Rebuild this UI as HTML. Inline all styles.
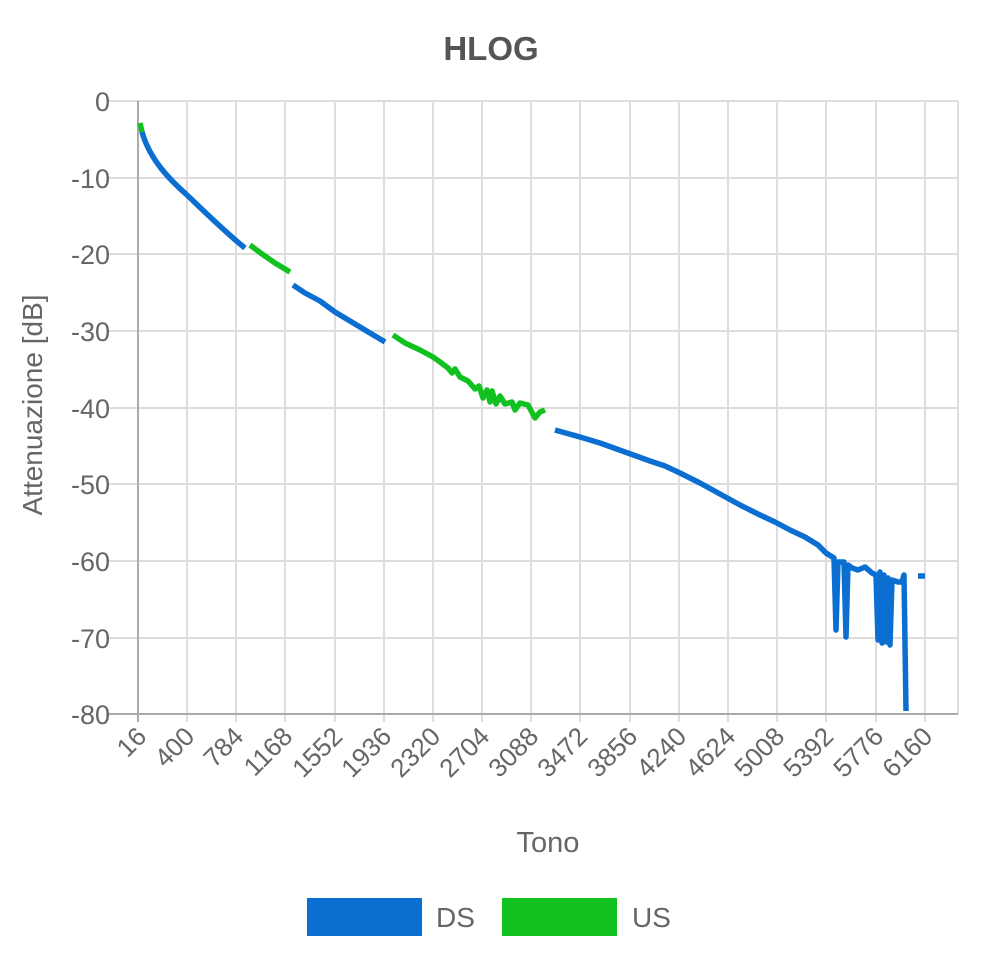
<!DOCTYPE html><html><head><style>body{margin:0;background:#fff}svg{font-family:"Liberation Sans",sans-serif}</style></head><body>
<svg width="981" height="962" viewBox="0 0 981 962">
<text x="491" y="60" text-anchor="middle" font-size="33" font-weight="bold" fill="#555">HLOG</text>
<g stroke="#ddd" stroke-width="2">
<line x1="108" y1="101" x2="958" y2="101"/><line x1="108" y1="178" x2="958" y2="178"/><line x1="108" y1="254" x2="958" y2="254"/><line x1="108" y1="331" x2="958" y2="331"/><line x1="108" y1="408" x2="958" y2="408"/><line x1="108" y1="484" x2="958" y2="484"/><line x1="108" y1="561" x2="958" y2="561"/><line x1="108" y1="638" x2="958" y2="638"/>
<line x1="187" y1="101" x2="187" y2="722"/><line x1="236" y1="101" x2="236" y2="722"/><line x1="285" y1="101" x2="285" y2="722"/><line x1="335" y1="101" x2="335" y2="722"/><line x1="384" y1="101" x2="384" y2="722"/><line x1="433" y1="101" x2="433" y2="722"/><line x1="482" y1="101" x2="482" y2="722"/><line x1="531" y1="101" x2="531" y2="722"/><line x1="580" y1="101" x2="580" y2="722"/><line x1="630" y1="101" x2="630" y2="722"/><line x1="679" y1="101" x2="679" y2="722"/><line x1="728" y1="101" x2="728" y2="722"/><line x1="777" y1="101" x2="777" y2="722"/><line x1="826" y1="101" x2="826" y2="722"/><line x1="876" y1="101" x2="876" y2="722"/><line x1="925" y1="101" x2="925" y2="722"/><line x1="958" y1="101" x2="958" y2="714"/>
</g>
<g stroke="#aaa" stroke-width="2"><line x1="138" y1="101" x2="138" y2="722"/><line x1="108" y1="714" x2="958" y2="714"/></g>
<g font-size="27" fill="#666" text-anchor="end">
<text x="110" y="111">0</text><text x="110" y="188">-10</text><text x="110" y="264">-20</text><text x="110" y="341">-30</text><text x="110" y="418">-40</text><text x="110" y="494">-50</text><text x="110" y="571">-60</text><text x="110" y="648">-70</text><text x="110" y="724">-80</text>
</g>
<g font-size="26" fill="#666" text-anchor="end">
<text transform="translate(148,738) rotate(-45)">16</text><text transform="translate(196,738) rotate(-45)">400</text><text transform="translate(245,738) rotate(-45)">784</text><text transform="translate(294,738) rotate(-45)">1168</text><text transform="translate(344,738) rotate(-45)">1552</text><text transform="translate(393,738) rotate(-45)">1936</text><text transform="translate(442,738) rotate(-45)">2320</text><text transform="translate(491,738) rotate(-45)">2704</text><text transform="translate(540,738) rotate(-45)">3088</text><text transform="translate(589,738) rotate(-45)">3472</text><text transform="translate(639,738) rotate(-45)">3856</text><text transform="translate(688,738) rotate(-45)">4240</text><text transform="translate(737,738) rotate(-45)">4624</text><text transform="translate(786,738) rotate(-45)">5008</text><text transform="translate(835,738) rotate(-45)">5392</text><text transform="translate(885,738) rotate(-45)">5776</text><text transform="translate(934,738) rotate(-45)">6160</text>
</g>
<text x="548" y="852" text-anchor="middle" font-size="29" fill="#666">Tono</text>
<text transform="translate(42,405) rotate(-90)" text-anchor="middle" font-size="28" fill="#666">Attenuazione [dB]</text>
<g fill="none" stroke-width="5.5" stroke-linejoin="round">
<polyline stroke="#11c11f" points="140,123 142,132"/>
<path stroke="#0a6fd0" d="M142,132 C150,160 170,180 187,195 C205,212 225,232 245,248"/>
<polyline stroke="#11c11f" points="250,245 262,254 275,263 290,272"/>
<polyline stroke="#0a6fd0" points="293,285 305,293 320,301 335,312 350,321 365,330 385,342"/>
<polyline stroke="#11c11f" points="393,335 405,343 420,350 433,357 440,362 448,368 452,373 455,369 460,377 468,381 475,389 479,386 483,398 487,390 490,402 492,391 496,404 500,396 505,404 512,402 515,410 520,403 528,405 535,418 540,412 545,410"/>
<polyline stroke="#0a6fd0" points="555,430 580,437 600,443 625,452 650,461 665,466 680,473 700,483 720,494 740,505 760,515 775,522 790,530 805,537 818,545 826,553 834,558 836,630 838,562 844,562 846,637 848,565 852,568 858,570 865,567 872,573 876,575 878,640 880,572 882,643 884,575 886,642 888,578 890,645 892,580 898,582 902,582 904,575 906,711"/>
<polyline stroke="#0a6fd0" points="918,576 925,576"/>
</g>
<rect x="307" y="898" width="115" height="38" fill="#0a6fd0"/>
<text x="436" y="927" font-size="28" fill="#666">DS</text>
<rect x="502" y="898" width="115" height="38" fill="#11c11f"/>
<text x="632" y="927" font-size="28" fill="#666">US</text>
</svg></body></html>
